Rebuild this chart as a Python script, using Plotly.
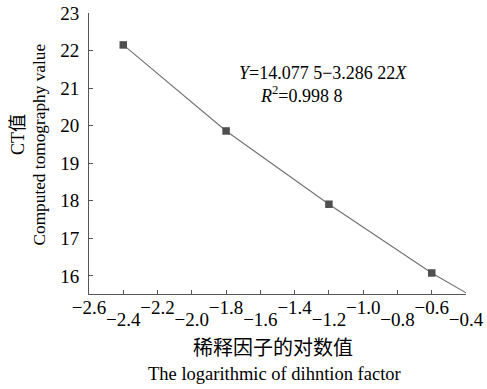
import plotly.graph_objects as go

# data
x_points = [-2.4, -1.8, -1.2, -0.6]
y_points = [22.15, 19.86, 17.91, 16.08]
line_x = [-2.4, -1.8, -1.2, -0.6, -0.4]
line_y = [22.15, 19.86, 17.91, 16.08, 15.55]
upper_ticks = [-2.6, -2.2, -1.8, -1.4, -1.0, -0.6]
lower_ticks = [-2.4, -2.0, -1.6, -1.2, -0.8, -0.4]
y_ticks = [16, 17, 18, 19, 20, 21, 22, 23]

def fmt(v):
    return ("−" if v < 0 else "") + f"{abs(v):.1f}"

SERIF = "Liberation Serif, Times New Roman, serif"
MIX = "Liberation Serif, Noto Sans CJK SC, serif"
FS = 19

fig = go.Figure()
fig.add_trace(go.Scatter(x=line_x, y=line_y, mode="lines",
                         line=dict(color="#707070", width=1.1), showlegend=False))
fig.add_trace(go.Scatter(x=x_points, y=y_points, mode="markers",
                         marker=dict(symbol="square", size=7.5, color="#505050"),
                         showlegend=False))
fig.add_trace(go.Scatter(x=lower_ticks, y=[None]*len(lower_ticks), xaxis="x2",
                         mode="markers", showlegend=False, hoverinfo="skip"))

xr = [-2.6, -0.4]
fig.update_layout(
    width=487, height=389,
    margin=dict(l=89, r=21, t=13, b=95),
    plot_bgcolor="white", paper_bgcolor="white",
    font=dict(family=SERIF, size=FS, color="black"),
    xaxis=dict(range=xr, showgrid=False, zeroline=False, showline=True,
               linecolor="#555", linewidth=1, automargin=False,
               ticklabeloverflow="allow",
               tickvals=upper_ticks + lower_ticks,
               ticktext=[fmt(v) for v in upper_ticks] + [""] * len(lower_ticks),
               ticks="inside", ticklen=4, tickcolor="#555", ticklabelstandoff=-4,
               tickfont=dict(family=SERIF, size=FS)),
    xaxis2=dict(range=xr, overlaying="x", side="bottom", showgrid=False,
                zeroline=False, showline=False, automargin=False,
                ticklabeloverflow="allow",
                tickvals=lower_ticks, ticktext=[fmt(v) for v in lower_ticks],
                ticks="", ticklabelstandoff=12,
                tickfont=dict(family=SERIF, size=FS)),
    yaxis=dict(range=[15.52, 23], showgrid=False, zeroline=False, showline=True,
               linecolor="#555", linewidth=1, tickvals=y_ticks, automargin=False,
               ticklabeloverflow="allow",
               ticks="inside", ticklen=4, tickcolor="#555", ticklabelstandoff=5,
               tickfont=dict(family=SERIF, size=FS)),
)

ann = [
    dict(text="CT值", x=-0.188, y=0.566, textangle=-90, font=dict(family=MIX, size=18)),
    dict(text="Computed tomography value", x=-0.13, y=0.532, textangle=-90,
         font=dict(family=SERIF, size=17.3)),
    dict(text="稀释因子的对数值", x=0.489, y=-0.192, font=dict(family=MIX, size=20)),
    dict(text="The logarithmic of dihntion factor", x=0.492, y=-0.285,
         font=dict(family=SERIF, size=18.5)),
    dict(text="<i>Y</i>=14.077 5−3.286 22<i>X</i>", x=0.393, y=0.785, xanchor="left",
         font=dict(family=SERIF, size=18)),
    dict(text="<i>R</i><sup>2</sup>=0.998 8", x=0.448, y=0.71, xanchor="left",
         font=dict(family=SERIF, size=18)),
]
for a in ann:
    a.setdefault("xanchor", "center")
    fig.add_annotation(xref="paper", yref="paper", showarrow=False, yanchor="middle", **a)

# remove the browser's default 8px body margin so the figure sits at the page origin
fig.write_html("out.html", config={"displayModeBar": False},
               post_script="document.body.style.margin='0';")
